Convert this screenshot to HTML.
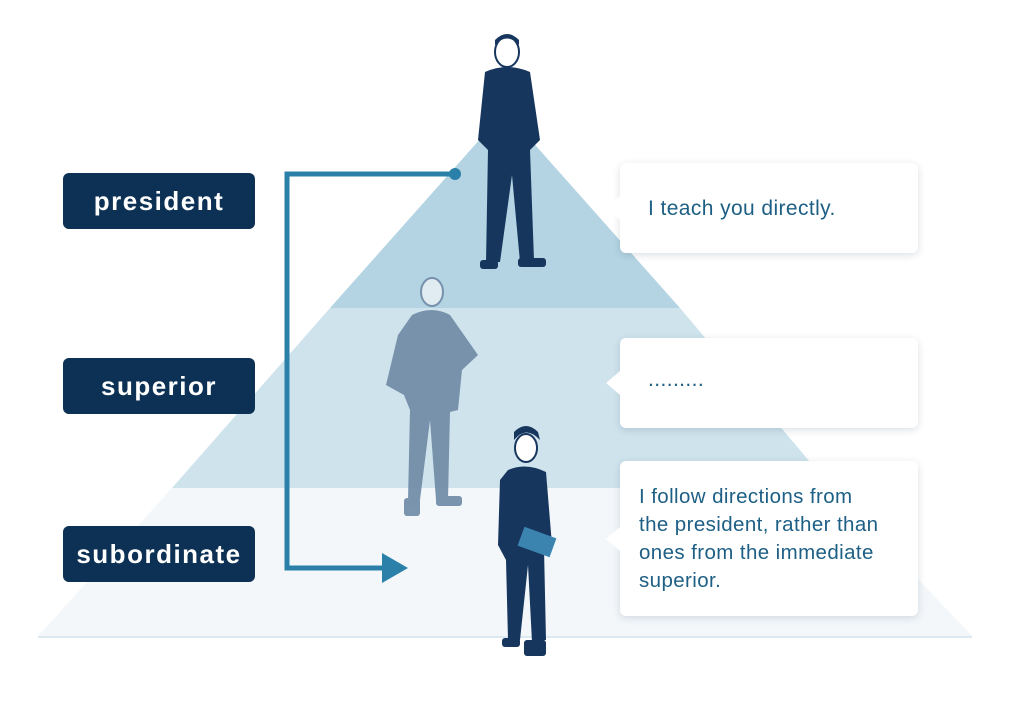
<!DOCTYPE html>
<html><head><meta charset="utf-8"><style>
body{margin:0;width:1024px;height:724px;background:#fff;position:relative;overflow:hidden;font-family:"Liberation Sans",sans-serif}
.lab{position:absolute;left:63px;width:192px;height:56px;background:#0d3154;border-radius:6px;color:#fff;font-size:26px;font-weight:bold;text-align:center;line-height:56px;letter-spacing:1.5px}
.b{position:absolute;left:620px;width:298px;background:#fff;border-radius:6px;box-shadow:0 2px 8px rgba(0,40,70,0.15);color:#1d5f85;font-size:21px;box-sizing:border-box;padding-left:20px;letter-spacing:0.4px;white-space:nowrap}
.b:before{content:"";position:absolute;left:-14px;top:50%;margin-top:-12px;border-top:12px solid transparent;border-bottom:12px solid transparent;border-right:14px solid #fff}
</style></head><body>
<svg width="1024" height="724" style="position:absolute;left:0;top:0">
<polygon points="38,636 172,488 832,488 972,636" fill="#f3f7fa"/>
<line x1="38" y1="637" x2="972" y2="637" stroke="#dde9f0" stroke-width="2"/>
<polygon points="172,488 330,308 680,308 832,488" fill="#cfe3ed"/>
<polygon points="330,308 505,111 680,308" fill="#b4d4e3"/>
<polyline points="455,174 287,174 287,568 385,568" fill="none" stroke="#2a80a8" stroke-width="5"/>
<circle cx="455" cy="174" r="6" fill="#2a80a8"/>
<polygon points="382,553 408,568 382,583" fill="#2a80a8"/>
<g fill="#17365e">
<ellipse cx="507" cy="52" rx="12" ry="15" fill="#fff" stroke="#17365e" stroke-width="2"/>
<path d="M495 45 Q507 32 519 45 L519 40 Q507 28 495 40Z"/>
<path d="M485 72 Q507 62 530 72 L540 140 L530 150 L534 260 L520 262 L512 175 L500 262 L486 262 L488 150 L478 140Z"/>
<rect x="480" y="260" width="18" height="9" rx="3"/><rect x="518" y="258" width="28" height="9" rx="3"/>
</g>
<g fill="#6f8aa6" opacity="0.9">
<ellipse cx="432" cy="292" rx="11" ry="14" fill="#e6eef4" stroke="#6f8aa6" stroke-width="2"/>
<path d="M412 315 Q432 305 450 315 L478 355 L462 370 L458 410 L450 412 L448 500 L436 500 L430 420 L420 500 L408 500 L410 410 L404 395 L386 385 L398 335Z"/>
<rect x="404" y="498" width="16" height="18" rx="3"/><rect x="436" y="496" width="26" height="10" rx="3"/>
</g>
<g fill="#17365e">
<ellipse cx="526" cy="448" rx="11" ry="14" fill="#fff" stroke="#17365e" stroke-width="2"/>
<path d="M514 440 Q526 425 540 440 L538 432 Q526 420 514 432Z"/>
<path d="M508 470 Q526 462 546 472 L552 545 L544 548 L546 640 L532 642 L528 565 L520 640 L508 640 L506 560 L498 545 L500 480Z"/>
<rect x="502" y="638" width="18" height="9" rx="3"/><rect x="524" y="640" width="22" height="16" rx="3"/>
<rect x="520" y="532" width="34" height="20" fill="#3b84b0" transform="rotate(20 537 542)"/>
</g>
</svg>
<div class="lab" style="top:173px">president</div>
<div class="lab" style="top:358px">superior</div>
<div class="lab" style="top:526px">subordinate</div>
<div class="b" style="top:163px;height:90px;line-height:92px;padding-left:28px">I teach you directly.</div>
<div class="b" style="top:338px;height:90px;line-height:84px;padding-left:28px">.........</div>
<div class="b" style="top:461px;height:155px;padding-top:22px;line-height:28px;font-size:20.5px;padding-left:19px">I follow directions from<br>the president, rather than<br>ones from the immediate<br>superior.</div>
</body></html>
